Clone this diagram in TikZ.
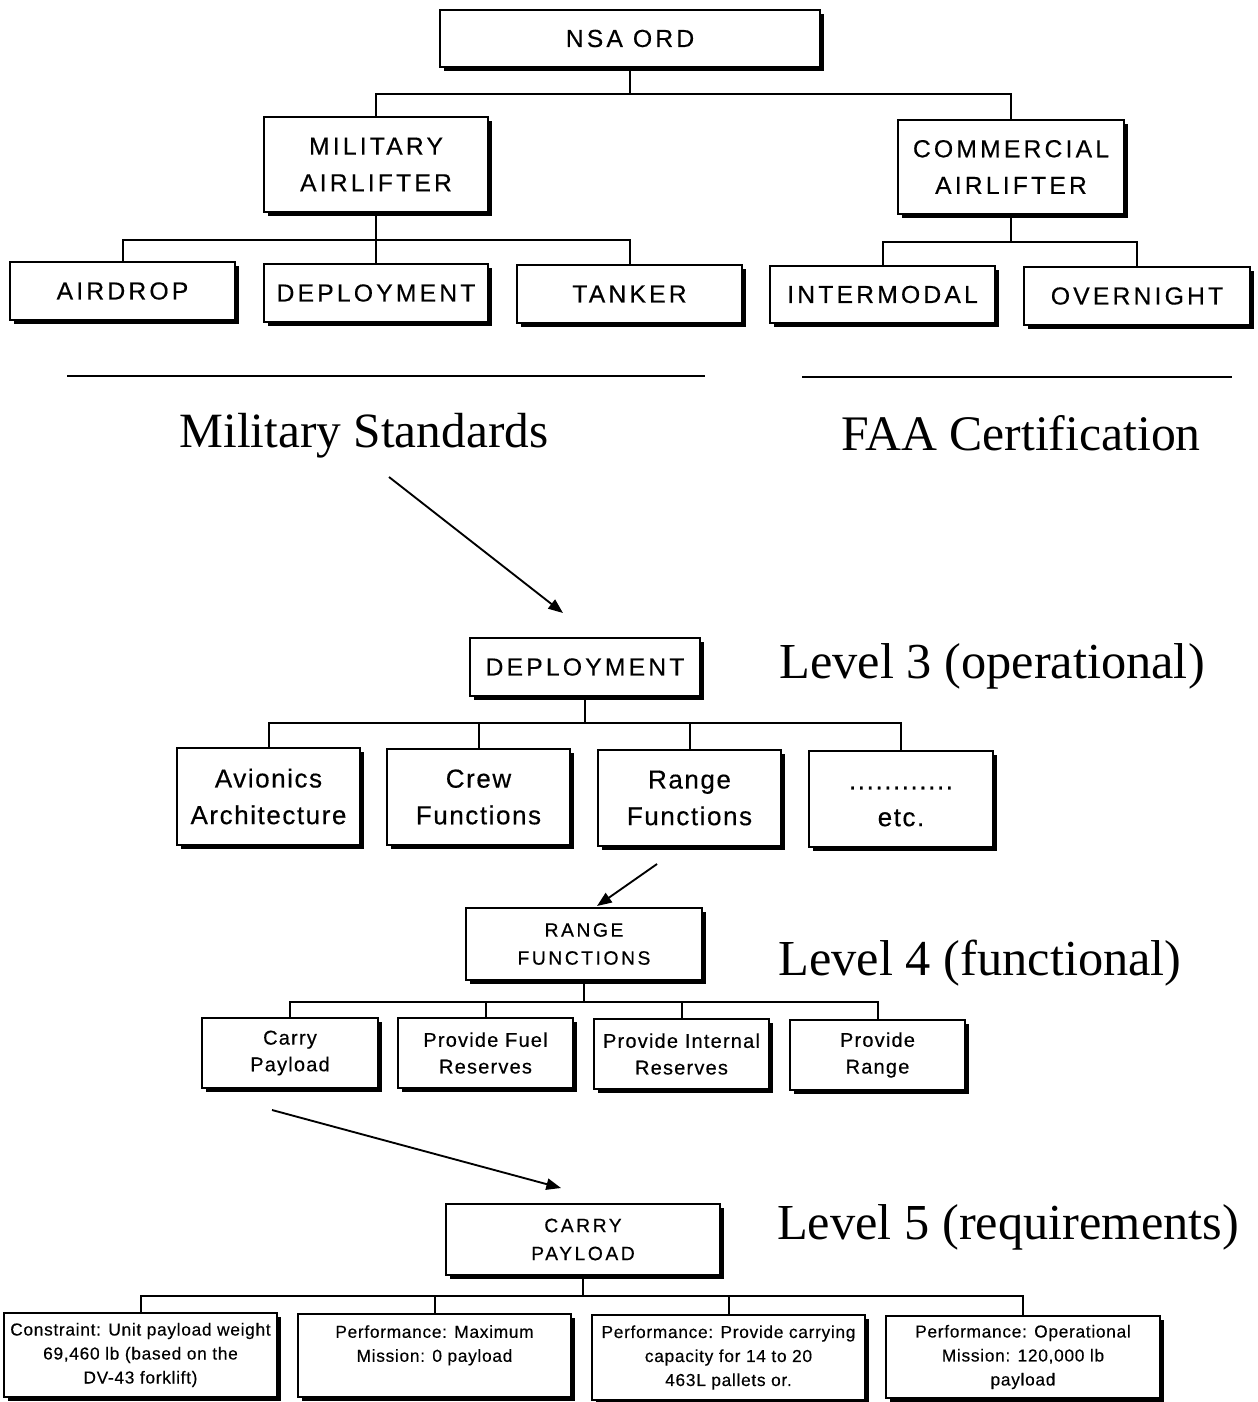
\documentclass[tikz,border=0pt]{standalone}
\usepackage{fontspec}
\setmainfont{Liberation Serif}
\newfontfamily\capsfont[LetterSpace=13,FakeBold=0.4]{Liberation Sans}
\newfontfamily\mixfont[LetterSpace=6,FakeBold=0.4]{Liberation Sans}
\newfontfamily\smallfont[LetterSpace=4,FakeBold=0.3]{Liberation Sans}
\usetikzlibrary{shadows,arrows.meta}
\tikzset{
  box/.style={draw, line width=1.5pt, fill=white, inner sep=0pt, align=center,
    drop shadow={shadow xshift=3.2pt, shadow yshift=-3.2pt, fill=black, opacity=1}},
  topcaps/.style={font=\capsfont\fontsize{18.5}{27.5}\selectfont},
  lthree/.style={font=\mixfont\fontsize{19.5}{27.5}\selectfont},
  smcaps/.style={font=\capsfont\fontsize{14.5}{21}\selectfont},
  lfour/.style={font=\mixfont\fontsize{15}{20}\selectfont},
  lfive/.style={font=\smallfont\fontsize{13}{18}\selectfont},
  bigtext/.style={font=\fontsize{37}{40}\selectfont, inner sep=0pt, anchor=base},
  leveltext/.style={font=\fontsize{37.8}{40}\selectfont, inner sep=0pt, anchor=base},
  conn/.style={line width=1.5pt},
  arr/.style={line width=1.4pt, -{Triangle[length=11pt,width=8.5pt]}},
}
\newcommand\bx[7]{\node[box,#2,minimum width={(#5-#3)*0.75pt},minimum height={(#6-#4)*0.75pt}] (#1) at ({(#3+#5)/2},{(#4+#6)/2}) {#7};}
\begin{document}
\begin{tikzpicture}[x=0.75pt,y=-0.75pt]
\useasboundingbox (0,0) rectangle (1257,1402);

% ---- top tree
\bx{nsa}{topcaps}{440}{10}{820}{67}{NSA ORD}
\bx{mil}{topcaps}{264}{117}{488}{212}{MILITARY\\AIRLIFTER}
\bx{com}{topcaps}{898}{120}{1124}{214}{COMMERCIAL\\AIRLIFTER}
\bx{airdrop}{topcaps}{10}{262}{235}{320}{AIRDROP}
\bx{deptop}{topcaps}{264}{264}{488}{322}{DEPLOYMENT}
\bx{tanker}{topcaps}{517}{265}{742}{323}{TANKER}
\bx{inter}{topcaps}{770}{266}{995}{323}{INTERMODAL}
\bx{over}{topcaps}{1024}{267}{1250}{325}{OVERNIGHT}

\draw[conn] (nsa.south) -- ++(0,26) coordinate (b0);
\draw[conn] (mil.north) |- (b0) -| (com.north);
\draw[conn] (mil.south) -- ++(0,27) coordinate (b1);
\draw[conn] (airdrop.north) |- (b1) -| (tanker.north);
\draw[conn] (b1) -- (deptop.north);
\draw[conn] (com.south) -- ++(0,27) coordinate (b2);
\draw[conn] (inter.north) |- (b2) -| (over.north);

% ---- separators and standards
\draw[line width=1.5pt] (67,376) -- (705,376);
\draw[line width=1.5pt] (802,377) -- (1232,377);
\node[bigtext] (milstd) at (364,447) {Military Standards};
\node[bigtext, font=\fontsize{37.3}{40}\selectfont] (faa) at (1021,450) {FAA Certification};

% ---- level 3
\bx{dep}{topcaps}{470}{638}{700}{696}{DEPLOYMENT}
\node[leveltext] (lv3) at (992,678) {Level 3 (operational)};
\bx{avi}{lthree}{177}{748}{360}{845}{Avionics\\Architecture}
\bx{crew}{lthree}{387}{749}{570}{845}{Crew\\Functions}
\bx{range}{lthree}{598}{750}{781}{846}{Range\\Functions}
\bx{etc}{lthree}{809}{751}{993}{847}{\vphantom{Rg}............\\etc.}
\draw[conn] (dep.south) -- ++(0,26) coordinate (b3);
\draw[conn] (avi.north) |- (b3) -| (etc.north);
\draw[conn] (crew.north) -- (crew.north |- b3);
\draw[conn] (range.north) -- (range.north |- b3);

\coordinate (a1s) at (389,477);
\coordinate (a1e) at (563,613);
\draw[arr] (a1s) -- (a1e);

% ---- level 4
\coordinate (a2s) at (657,864);
\coordinate (a2e) at (597,906);
\draw[arr] (a2s) -- (a2e);
\bx{rf}{smcaps}{466}{908}{702}{980}{RANGE\\FUNCTIONS}
\node[leveltext] (lv4) at (980,975) {Level 4 (functional)};
\bx{cp}{lfour}{202}{1018}{378}{1088}{Carry\\Payload}
\bx{pfr}{lfour}{398}{1018}{573}{1088}{Provide Fuel\\Reserves}
\bx{pir}{lfour}{594}{1019}{769}{1089}{Provide Internal\\Reserves}
\bx{pr}{lfour}{790}{1020}{965}{1090}{Provide\\Range}
\draw[conn] (rf.south) -- ++(0,21) coordinate (b4);
\draw[conn] (cp.north) |- (b4) -| (pr.north);
\draw[conn] (pfr.north) -- (pfr.north |- b4);
\draw[conn] (pir.north) -- (pir.north |- b4);

% ---- level 5
\coordinate (a3s) at (272,1110);
\coordinate (a3e) at (561,1188);
\draw[arr] (a3s) -- (a3e);
\bx{carry}{smcaps}{446}{1204}{720}{1275}{CARRY\\PAYLOAD}
\node[leveltext] (lv5) at (1008,1239) {Level 5 (requirements)};
\bx{r1}{lfive}{4}{1313}{277}{1397}{Constraint: Unit payload weight\\69,460 lb (based on the\\DV-43 forklift)}
\bx{r2}{lfive}{298}{1314}{571}{1397}{Performance: Maximum\\Mission: 0 payload\\\mbox{}}
\bx{r3}{lfive}{592}{1315}{865}{1400}{Performance: Provide carrying\\capacity for 14 to 20\\463L pallets or.}
\bx{r4}{lfive}{886}{1316}{1160}{1398}{Performance: Operational\\Mission: 120,000 lb\\payload}
\draw[conn] (carry.south) -- ++(0,20) coordinate (b5);
\draw[conn] (r1.north) |- (b5) -| (r4.north);
\draw[conn] (r2.north) -- (r2.north |- b5);
\draw[conn] (r3.north) -- (r3.north |- b5);
\end{tikzpicture}
\end{document}
